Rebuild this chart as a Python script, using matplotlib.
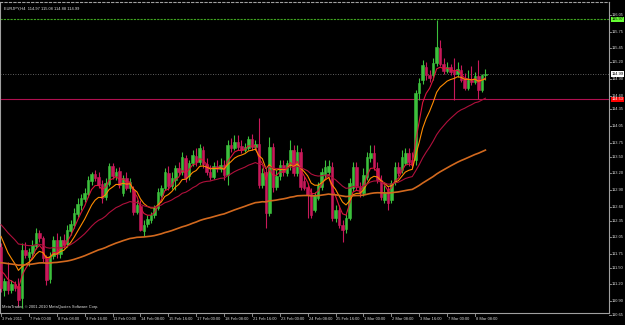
import matplotlib
matplotlib.use("Agg")
import matplotlib.pyplot as plt
import numpy as np
from matplotlib.transforms import blended_transform_factory

# ---------------- data (EURJPY H4, 3 Feb 2011 16:00 -> 8 Mar 2011 20:00) ----------------
opens = [111.87, 111.10, 111.26, 111.10, 111.21, 111.17, 110.96, 111.82, 111.69, 111.77,
         111.89, 112.13, 112.04, 111.68, 111.30, 111.71, 112.00, 111.75, 112.00, 111.93,
         112.16, 112.27, 112.47, 112.63, 112.74, 112.83, 113.06, 113.19, 113.13, 113.01,
         112.77, 113.01, 113.33, 113.15, 113.24, 112.85, 113.12, 112.94, 112.90, 112.50,
         112.61, 112.16, 112.29, 112.36, 112.45, 112.58, 112.81, 112.94, 113.21, 112.97,
         113.08, 113.30, 113.22, 113.48, 113.15, 113.39, 113.51, 113.40, 113.62, 113.37,
         113.22, 113.13, 113.33, 113.28, 113.35, 113.17, 113.71, 113.66, 113.76, 113.69,
         113.62, 113.66, 113.82, 113.67, 113.73, 112.99, 113.22, 112.49, 113.67, 112.95,
         113.15, 113.35, 113.21, 113.35, 113.62, 113.21, 113.58, 113.06, 112.95, 112.85,
         112.54, 112.76, 112.95, 113.17, 113.22, 113.31, 112.40, 112.54, 112.27, 112.20,
         112.40, 112.94, 113.31, 112.95, 112.85, 113.13, 113.48, 113.57, 113.30, 113.08,
         112.72, 112.90, 112.72, 113.04, 113.31, 113.26, 113.39, 113.57, 113.44, 113.44,
         114.65, 114.88, 115.11, 114.97, 114.97, 115.19, 115.46, 115.17, 115.04, 115.11,
         115.06, 114.99, 115.06, 114.90, 114.74, 114.88, 114.84, 114.95, 114.70, 114.97]
highs = [111.95, 111.32, 111.60, 111.28, 111.26, 111.32, 111.95, 111.96, 111.86, 112.00,
         112.22, 112.18, 112.07, 111.73, 111.78, 112.07, 112.13, 112.07, 112.11, 112.27,
         112.36, 112.58, 112.76, 112.83, 112.94, 113.15, 113.22, 113.26, 113.22, 113.08,
         113.12, 113.39, 113.39, 113.30, 113.31, 113.17, 113.22, 113.12, 112.97, 112.72,
         112.72, 112.36, 112.45, 112.50, 112.63, 112.94, 112.99, 113.30, 113.33, 113.22,
         113.35, 113.40, 113.58, 113.53, 113.44, 113.62, 113.66, 113.73, 113.69, 113.48,
         113.35, 113.40, 113.44, 113.48, 113.44, 113.80, 113.84, 113.89, 113.89, 113.80,
         113.75, 113.87, 113.91, 113.80, 114.20, 113.30, 113.30, 113.85, 113.75, 113.26,
         113.44, 113.44, 113.44, 113.80, 113.71, 113.71, 113.66, 113.15, 113.03, 112.94,
         112.86, 113.04, 113.30, 113.44, 113.44, 113.40, 112.63, 112.63, 112.36, 112.47,
         113.12, 113.40, 113.40, 113.04, 113.30, 113.58, 113.71, 113.71, 113.40, 113.17,
         112.99, 112.97, 113.08, 113.40, 113.40, 113.62, 113.66, 113.66, 113.58, 114.70,
         114.92, 115.24, 115.20, 115.06, 115.28, 115.96, 115.60, 115.28, 115.20, 115.17,
         115.28, 115.20, 115.15, 115.01, 115.06, 115.13, 115.02, 115.24, 114.99, 115.08]
lows = [111.06, 110.99, 111.03, 111.05, 111.08, 110.81, 110.78, 111.68, 111.53, 111.71,
        111.84, 111.96, 111.60, 111.19, 111.23, 111.66, 111.68, 111.68, 111.86, 111.87,
        112.09, 112.22, 112.41, 112.54, 112.68, 112.77, 112.99, 113.06, 112.94, 112.67,
        112.72, 112.97, 113.10, 113.08, 112.94, 112.79, 112.90, 112.86, 112.45, 112.47,
        112.16, 112.07, 112.23, 112.31, 112.40, 112.54, 112.77, 112.90, 112.90, 112.92,
        112.90, 113.17, 113.17, 113.04, 113.08, 113.33, 113.33, 113.35, 113.30, 113.17,
        113.08, 113.10, 113.22, 113.22, 113.08, 112.99, 113.58, 113.62, 113.62, 113.57,
        113.58, 113.62, 113.62, 113.62, 112.94, 112.94, 112.22, 112.43, 112.86, 112.90,
        113.08, 113.15, 113.15, 113.26, 113.15, 113.15, 112.90, 112.90, 112.40, 112.40,
        112.50, 112.72, 112.90, 113.12, 113.17, 112.34, 112.32, 112.22, 111.96, 112.13,
        112.36, 112.88, 112.90, 112.77, 112.79, 113.08, 113.40, 113.26, 113.03, 112.72,
        112.67, 112.54, 112.67, 112.99, 113.15, 113.21, 113.35, 113.33, 113.30, 113.35,
        114.52, 114.81, 114.88, 114.84, 114.88, 115.13, 115.13, 114.99, 115.01, 114.97,
        114.52, 114.93, 114.84, 114.70, 114.70, 114.79, 114.81, 114.54, 114.66, 114.88]
closes = [111.14, 111.26, 111.10, 111.21, 111.14, 110.92, 111.82, 111.73, 111.78, 111.91,
          112.13, 112.04, 111.68, 111.28, 111.71, 112.00, 111.75, 112.00, 111.91, 112.18,
          112.29, 112.49, 112.65, 112.76, 112.85, 113.08, 113.19, 113.12, 112.99, 112.76,
          113.03, 113.33, 113.15, 113.22, 112.99, 113.12, 112.94, 113.04, 112.50, 112.63,
          112.18, 112.27, 112.38, 112.45, 112.58, 112.86, 112.94, 113.22, 112.97, 113.12,
          113.30, 113.22, 113.49, 113.12, 113.39, 113.53, 113.40, 113.66, 113.37, 113.22,
          113.13, 113.33, 113.28, 113.35, 113.17, 113.71, 113.66, 113.76, 113.67, 113.62,
          113.67, 113.82, 113.67, 113.73, 112.99, 113.21, 112.49, 113.67, 112.95, 113.15,
          113.35, 113.22, 113.39, 113.62, 113.21, 113.58, 112.95, 112.94, 112.81, 112.45,
          112.81, 112.99, 113.22, 113.31, 113.33, 112.40, 112.54, 112.27, 112.18, 112.40,
          113.03, 113.31, 112.95, 112.85, 113.17, 113.49, 113.57, 113.31, 113.08, 112.77,
          112.85, 112.67, 113.03, 113.31, 113.21, 113.49, 113.57, 113.40, 113.35, 114.65,
          114.83, 115.15, 114.97, 114.92, 115.19, 115.47, 115.17, 115.04, 115.11, 115.02,
          114.99, 115.08, 114.88, 114.74, 114.88, 114.84, 114.95, 114.70, 114.97, 114.99]

# moving averages (EMA periods and their level at the first visible bar)
ma_periods = [5, 10, 28, 100]
ma_start = [111.60, 112.27, 112.36, 111.60]
ma_colors = ["#dc143c", "#ff8c00", "#b0103c", "#d2691e"]
ma_widths = [0.8, 0.8, 0.8, 1.2]

# x-axis labels (every 8 bars)
x_label_bars = [0, 8, 16, 24, 32, 40, 48, 56, 64, 72, 80, 88, 96, 104, 112, 120, 128, 136]
x_labels = ["3 Feb 2011", "7 Feb 00:00", "8 Feb 08:00", "9 Feb 16:00", "11 Feb 00:00",
            "14 Feb 08:00", "15 Feb 16:00", "17 Feb 00:00", "18 Feb 08:00", "21 Feb 16:00",
            "23 Feb 00:00", "24 Feb 08:00", "25 Feb 16:00", "1 Mar 00:00", "2 Mar 08:00",
            "3 Mar 16:00", "7 Mar 00:00", "8 Mar 08:00"]
y_labels = ["116.05", "115.75", "115.45", "115.20", "114.90", "114.60", "114.35", "114.05",
            "113.75", "113.50", "113.20", "112.90", "112.60", "112.35", "112.05", "111.75",
            "111.50", "111.20", "110.90", "110.65"]

high_level = 115.97
low_level = 114.53
bid = 114.99
title = "EURJPY,H4  114.97 115.08 114.88 114.99"
copyright_text = "MetaTrader, \u00a9 2001-2010 MetaQuotes Software Corp."

# ---------------- drawing ----------------
FAM = ["Liberation Sans Narrow", "Liberation Sans", "DejaVu Sans"]
W, H = 625, 325
fig = plt.figure(figsize=(W / 100, H / 100), dpi=100, facecolor="black")
ax = fig.add_axes([0 / W, (H - 313) / H, 609 / W, 311 / H])
ax.set_facecolor("black")

n = len(closes)
xs = np.arange(n)
o = np.array(opens); h = np.array(highs); l = np.array(lows); c = np.array(closes)
bull = c >= o
bull_col = "#3cc03c"
bear_col = "#c8195a"
cols = np.where(bull, bull_col, bear_col)

ax.vlines(xs, l, h, colors=cols, linewidth=0.8, zorder=2)
bottoms = np.minimum(o, c)
heights = np.maximum(np.abs(c - o), 0.012)
ax.bar(xs, heights, bottom=bottoms, width=0.72, color=cols, edgecolor=cols,
       linewidth=0.4, zorder=3)

# moving averages
for p, s0, col, lw in zip(ma_periods, ma_start, ma_colors, ma_widths):
    a = 2.0 / (p + 1)
    vals = []
    prev = s0
    for v in closes:
        prev = a * v + (1 - a) * prev
        vals.append(prev)
    ax.plot(xs, vals, color=col, linewidth=lw, zorder=4)

# horizontal level lines
ax.axhline(high_level, color="#3fa51f", linewidth=0.8, linestyle=(0, (2, 1)), zorder=1)
ax.axhline(low_level, color="#b01050", linewidth=0.8, zorder=1)
ax.axhline(bid, color="#808080", linewidth=0.6, linestyle=(0, (1, 2)), zorder=1)

ax.set_xlim(-0.287, 174.46)
ax.set_ylim(110.686, 116.284)

# frame
for side in ["left", "right", "bottom"]:
    ax.spines[side].set_color("#a0a0a0")
    ax.spines[side].set_linewidth(0.8)
ax.spines["top"].set_color("#a0a0a0")
ax.spines["top"].set_linestyle((0, (2, 2)))
ax.spines["top"].set_linewidth(0.8)

ax.set_xticks([])
ax.set_yticks([])

tr_y = blended_transform_factory(ax.transAxes, ax.transData)
tr_x = blended_transform_factory(ax.transData, ax.transAxes)
fs = 2.9
for lab in y_labels:
    v = float(lab)
    ax.plot([1.0, 1.0035], [v, v], transform=tr_y, color="#a0a0a0", linewidth=0.6,
            clip_on=False)
    ax.text(1.004, v, lab, transform=tr_y, color="#d8d8d8", fontsize=fs, family=FAM,
            va="center", ha="left", clip_on=False)

for b, lab in zip(x_label_bars, x_labels):
    ax.plot([b, b], [0, -0.01], transform=tr_x, color="#a0a0a0", linewidth=0.6,
            clip_on=False)
    ax.text(b + 0.25, -0.012, lab, transform=tr_x, color="#d8d8d8", fontsize=fs,
            family=FAM, va="top", ha="left", clip_on=False)

# price boxes on the right axis
for lvl, bg, fg in [(high_level, "#66ff33", "black"), (bid, "white", "black"),
                    (low_level, "#ff0000", "white")]:
    ax.text(1.004, lvl, f"{lvl:.2f}", transform=tr_y, color=fg, fontsize=fs, family=FAM,
            va="center", ha="left", clip_on=False, zorder=6,
            bbox=dict(boxstyle="square,pad=0.2", facecolor=bg, edgecolor="none"))

ax.text(0.006, 0.985, title, transform=ax.transAxes, color="#e0e0e0", fontsize=fs,
        family=FAM, va="top", ha="left")
ax.text(0.004, 0.012, copyright_text, transform=ax.transAxes, color="#e0e0e0",
        fontsize=fs, family=FAM, va="bottom", ha="left")

fig.savefig("out.png", dpi=100, facecolor="black")
